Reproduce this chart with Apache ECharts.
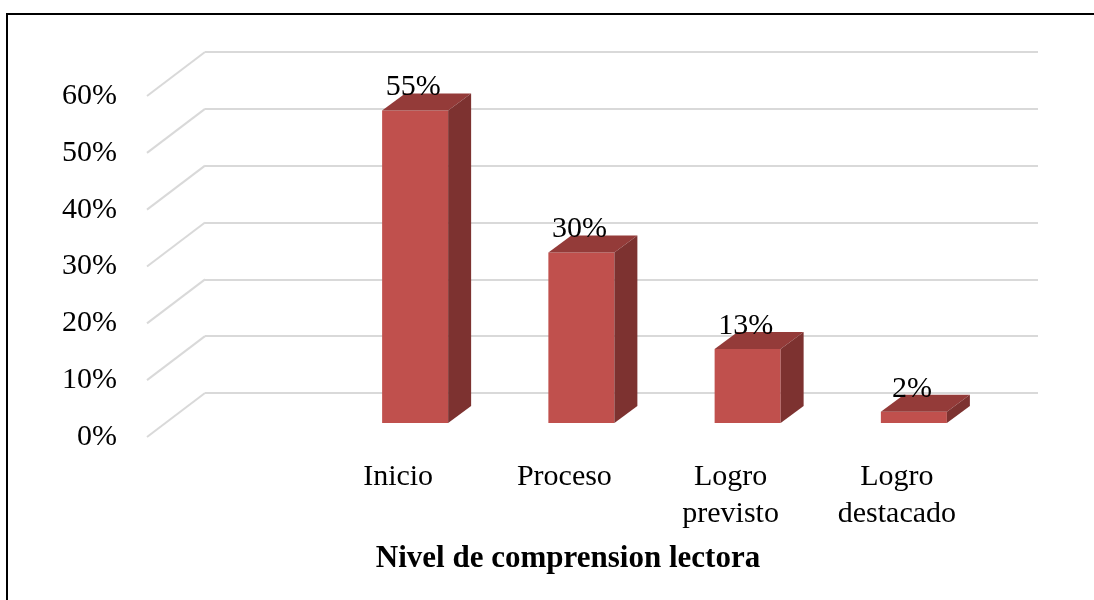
<!DOCTYPE html>
<html lang="es">
<head>
    <meta charset="UTF-8">
    <title>Nivel de comprension lectora</title>
    <script src="https://cdn.jsdelivr.net/npm/echarts@6/dist/echarts.min.js"></script>
    <style>
        html, body { margin: 0; padding: 0; background: #fff; }
        #main { width: 1094px; height: 600px; }
    </style>
</head>
<body>
    <div id="main"></div>
    <script type="text/javascript">
        // datos del grafico
        var categorias = ['Inicio', 'Proceso', 'Logro\nprevisto', 'Logro\ndestacado'];
        var porcentajes = [55, 30, 13, 2];
        var marcas = [0, 10, 20, 30, 40, 50, 60];

        var fuente = 'Liberation Serif';
        // desplazamiento de profundidad (piso) y de las barras
        var pisoDx = 58, pisoDy = 44;
        var barDx = 23, barDy = 17;

        var myChart = echarts.init(document.getElementById('main'), null, { renderer: 'canvas' });

        var option = {
            backgroundColor: '#fff',
            animation: false,
            title: {
                text: 'Nivel de comprension lectora',
                left: 563,
                top: 538,
                textAlign: 'center',
                textStyle: { fontFamily: fuente, fontSize: 31, fontWeight: 'bold', color: '#000' }
            },
            graphic: [{
                type: 'rect',
                shape: { x: 7, y: 14, width: 1200, height: 700 },
                style: { fill: 'none', stroke: '#000', lineWidth: 2 },
                silent: true
            }],
            grid: [
                // pared del fondo
                { left: 205, right: 56, top: 52, bottom: 207 },
                // plano frontal (etiquetas del eje y)
                { left: 147, right: 114, top: 96, bottom: 163 },
                // plano frontal (etiquetas de categorias)
                { left: 315, right: 114, top: 96, bottom: 163 },
                // plano de las barras
                { left: 332, right: 97, top: 82, bottom: 177 }
            ],
            xAxis: [
                { gridIndex: 0, type: 'value', min: 0, max: 1, show: false },
                { gridIndex: 1, type: 'value', min: 0, max: 1, show: false },
                {
                    gridIndex: 2, type: 'category', data: categorias,
                    axisLine: { show: false }, axisTick: { show: false },
                    axisLabel: {
                        fontFamily: fuente, fontSize: 30, color: '#000',
                        lineHeight: 37, margin: 22, interval: 0
                    }
                },
                { gridIndex: 3, type: 'category', data: categorias, show: false }
            ],
            yAxis: [
                {
                    gridIndex: 0, type: 'value', min: 0, max: 60, interval: 10,
                    axisLine: { show: false }, axisTick: { show: false }, axisLabel: { show: false },
                    splitLine: { show: true, lineStyle: { color: '#D9D9D9', width: 2 } }
                },
                {
                    gridIndex: 1, type: 'value', min: 0, max: 60, interval: 10,
                    axisLine: { show: false }, axisTick: { show: false },
                    splitLine: { show: false },
                    axisLabel: {
                        fontFamily: fuente, fontSize: 30, color: '#000', margin: 30,
                        padding: [5, 0, 0, 0],
                        formatter: '{value}%'
                    }
                },
                { gridIndex: 2, type: 'value', min: 0, max: 60, show: false },
                { gridIndex: 3, type: 'value', min: 0, max: 60, show: false }
            ],
            series: [
                {
                    // lineas diagonales del piso/pared lateral
                    type: 'custom',
                    xAxisIndex: 1,
                    yAxisIndex: 1,
                    silent: true,
                    data: marcas.map(function (v) { return [0, v]; }),
                    renderItem: function (params, api) {
                        var p = api.coord([0, api.value(1)]);
                        var x0 = params.coordSys.x;
                        return {
                            type: 'line',
                            shape: { x1: x0, y1: p[1], x2: x0 + pisoDx, y2: p[1] - pisoDy },
                            style: { stroke: '#D9D9D9', lineWidth: 2 }
                        };
                    }
                },
                {
                    // barras 3D
                    type: 'custom',
                    xAxisIndex: 3,
                    yAxisIndex: 3,
                    data: porcentajes.map(function (v, i) { return [i, v]; }),
                    renderItem: function (params, api) {
                        var base = api.coord([api.value(0), 0]);
                        var tope = api.coord([api.value(0), api.value(1)]);
                        var w = api.size([1, 0])[0] * 0.397;
                        var x0 = tope[0] - w / 2, x1 = x0 + w;
                        var ty = tope[1], by = base[1];
                        return {
                            type: 'group',
                            children: [
                                {
                                    type: 'rect',
                                    shape: { x: x0, y: ty, width: w, height: by - ty },
                                    style: { fill: '#C0504D' }
                                },
                                {
                                    type: 'polygon',
                                    shape: { points: [[x0, ty], [x1, ty], [x1 + barDx, ty - barDy], [x0 + barDx, ty - barDy]] },
                                    style: { fill: '#943B39' }
                                },
                                {
                                    type: 'polygon',
                                    shape: { points: [[x1, ty], [x1 + barDx, ty - barDy], [x1 + barDx, by - barDy], [x1, by]] },
                                    style: { fill: '#7D3230' }
                                },
                                {
                                    type: 'text',
                                    x: tope[0] - 2,
                                    y: ty - barDy + 9,
                                    style: {
                                        text: api.value(1) + '%',
                                        fontFamily: fuente, fontSize: 30, fill: '#000',
                                        align: 'center', verticalAlign: 'bottom'
                                    }
                                }
                            ]
                        };
                    }
                }
            ]
        };

        myChart.setOption(option);
    </script>
</body>
</html>
